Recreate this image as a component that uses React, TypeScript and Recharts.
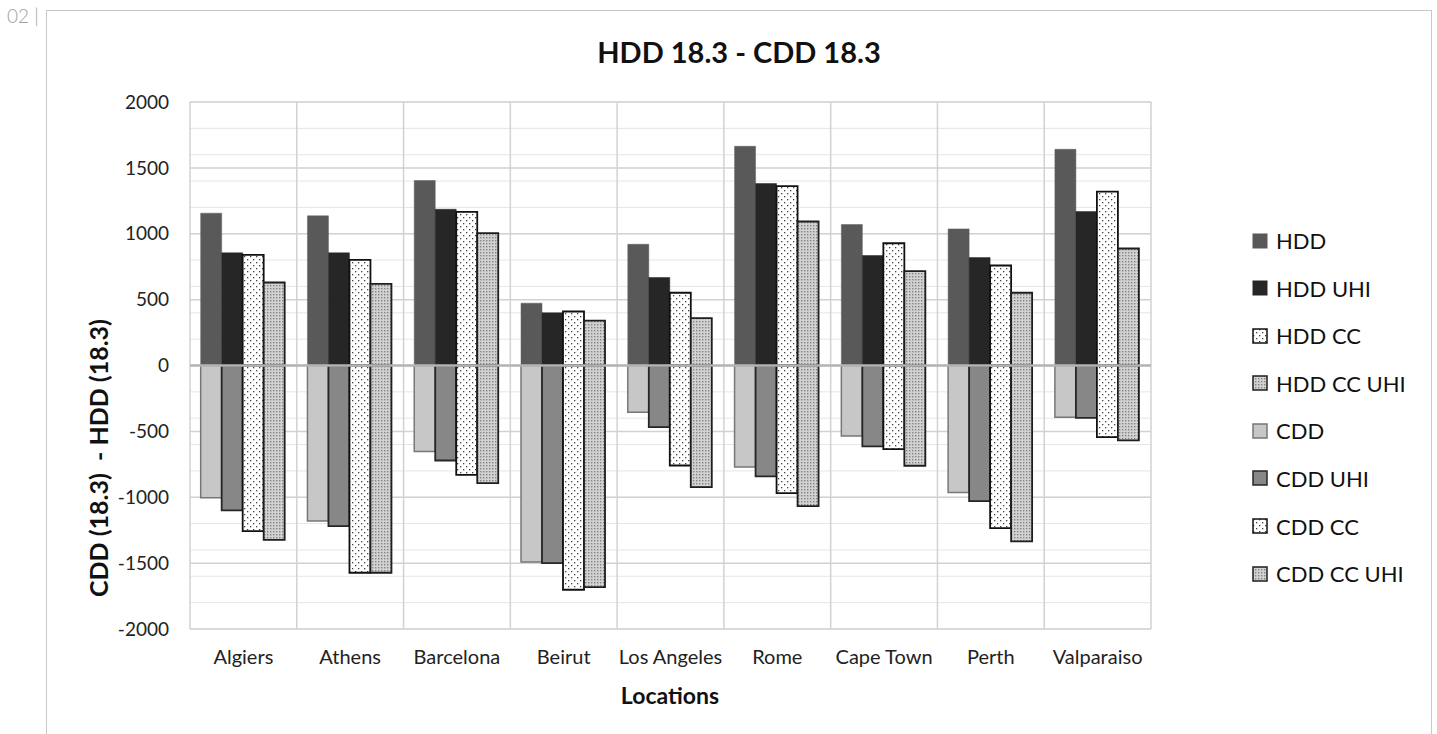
import React from 'react';
import { BarChart, Bar, XAxis, YAxis, CartesianGrid, ReferenceLine } from 'recharts';

const locations = ['Algiers', 'Athens', 'Barcelona', 'Beirut', 'Los Angeles', 'Rome', 'Cape Town', 'Perth', 'Valparaiso'];
const hdd = [1156, 1136, 1404, 473, 920, 1664, 1070, 1037, 1641];
const hddUhi = [855, 855, 1186, 400, 668, 1381, 835, 819, 1168];
const hddCc = [840, 802, 1166, 410, 552, 1361, 928, 759, 1320];
const hddCcUhi = [630, 620, 1004, 341, 359, 1093, 716, 552, 888];
const cdd = [-1004, -1181, -653, -1492, -354, -771, -536, -963, -392];
const cddUhi = [-1100, -1219, -721, -1500, -468, -842, -614, -1029, -397];
const cddCc = [-1257, -1573, -830, -1702, -759, -969, -635, -1234, -544];
const cddCcUhi = [-1323, -1573, -893, -1682, -923, -1067, -761, -1335, -569];

const yTicks = [-2000, -1500, -1000, -500, 0, 500, 1000, 1500, 2000];
const minorGrid = Array.from({ length: 41 }, (_, i) => -2000 + i * 100);

const data = locations.map((name, i) => ({
  name,
  hdd: hdd[i],
  hddUhi: hddUhi[i],
  hddCc: hddCc[i],
  hddCcUhi: hddCcUhi[i],
  cdd: cdd[i],
  cddUhi: cddUhi[i],
  cddCc: cddCc[i],
  cddCcUhi: cddCcUhi[i],
}));

type Kind = 'solid' | 'sparse' | 'dense';
const series: { key: string; name: string; stack: string; kind: Kind; fill: string; stroke: string; sw: number }[] = [
  { key: 'hdd', name: 'HDD', stack: 's1', kind: 'solid', fill: '#595959', stroke: '#5e5e5e', sw: 0.5 },
  { key: 'hddUhi', name: 'HDD UHI', stack: 's2', kind: 'solid', fill: '#262626', stroke: '#262626', sw: 0.5 },
  { key: 'hddCc', name: 'HDD CC', stack: 's3', kind: 'sparse', fill: 'sparse', stroke: '#111111', sw: 1.8 },
  { key: 'hddCcUhi', name: 'HDD CC UHI', stack: 's4', kind: 'dense', fill: 'dense', stroke: '#1e1e1e', sw: 1.8 },
  { key: 'cdd', name: 'CDD', stack: 's1', kind: 'solid', fill: '#c7c7c7', stroke: '#777777', sw: 1.5 },
  { key: 'cddUhi', name: 'CDD UHI', stack: 's2', kind: 'solid', fill: '#878787', stroke: '#262626', sw: 1.8 },
  { key: 'cddCc', name: 'CDD CC', stack: 's3', kind: 'sparse', fill: 'sparse', stroke: '#111111', sw: 1.8 },
  { key: 'cddCcUhi', name: 'CDD CC UHI', stack: 's4', kind: 'dense', fill: 'dense', stroke: '#1e1e1e', sw: 1.8 },
];

const FONT = 'Lato, "Noto Sans", sans-serif';

const Patterns = ({ prefix }: { prefix: string }) => (
  <defs>
    <pattern id={`${prefix}sparse`} width="6" height="6" patternUnits="userSpaceOnUse">
      <rect width="6" height="6" fill="#ffffff" />
      <rect x="1" y="1" width="1.3" height="1.3" fill="#444" />
      <rect x="4" y="4" width="1.3" height="1.3" fill="#444" />
    </pattern>
    <pattern id={`${prefix}dense`} width="3" height="3" patternUnits="userSpaceOnUse">
      <rect width="3" height="3" fill="#d2d2d2" />
      <rect x="0" y="0" width="1.4" height="1.4" fill="#848484" />
    </pattern>
  </defs>
);

const fillFor = (s: { kind: Kind; fill: string }, prefix: string) =>
  s.kind === 'solid' ? s.fill : `url(#${prefix}${s.kind})`;

export default function App() {
  const W = 1437;
  const H = 734;
  return (
    <div style={{ position: 'absolute', left: 0, top: 0, width: W, height: H, overflow: 'hidden', background: '#fff', fontFamily: FONT }}>
      {/* page marker */}
      <div style={{ position: 'absolute', left: 7, top: 4, fontSize: 19, fontWeight: 300, color: '#a0a0a0', fontFamily: FONT, lineHeight: '24px' }}>02 |</div>
      {/* frame */}
      <div style={{ position: 'absolute', left: 46, top: 10, width: 1386, height: 760, border: '1.5px solid #c8c8c8', boxSizing: 'border-box' }} />

      <div style={{ position: 'absolute', left: 0, top: 0 }}>
        <BarChart
          width={W}
          height={H}
          data={data}
          stackOffset="sign"
          barCategoryGap="10%"
          barGap={0}
          margin={{ top: 102, right: 206, bottom: 75, left: 110 }}
        >
          <Patterns prefix="c-" />
          <CartesianGrid yAxisId="left" horizontalValues={minorGrid} vertical={false} stroke="#e6e6e6" strokeWidth={1} />
          <CartesianGrid
            yAxisId="left"
            horizontalValues={yTicks}
            stroke="#d2d2d2"
            strokeWidth={1.5}
            verticalCoordinatesGenerator={({ offset }: any) =>
              Array.from({ length: locations.length + 1 }, (_, i) => offset.left + (i * offset.width) / locations.length)
            }
          />
          <XAxis
            dataKey="name"
            axisLine={false}
            tickLine={false}
            tickSize={0}
            tickMargin={21}
            height={30}
            interval={0}
            tick={{ fill: '#222', fontSize: 20, fontFamily: FONT }}
          />
          <YAxis
            yAxisId="left"
            domain={[-2000, 2000]}
            ticks={yTicks}
            width={80}
            axisLine={false}
            tickLine={false}
            tickSize={0}
            tickMargin={21}
            tick={{ fill: '#222', fontSize: 19, fontFamily: FONT }}
          />
          <YAxis
            yAxisId="right"
            orientation="right"
            domain={[-2000, 2000]}
            ticks={yTicks}
            width={80}
            axisLine={false}
            tickLine={false}
            tickSize={0}
            tickMargin={22}
            tick={{ fill: '#222', fontSize: 19, fontFamily: FONT, textAnchor: 'start' }}
          />
          {series.map((s) => (
            <Bar
              key={s.key}
              dataKey={s.key}
              name={s.name}
              stackId={s.stack}
              yAxisId="left"
              fill={fillFor(s, 'c-')}
              stroke={s.stroke}
              strokeWidth={s.sw}
              isAnimationActive={false}
            />
          ))}
          <ReferenceLine yAxisId="left" y={0} stroke="#b4b4b4" strokeWidth={2.5} />
        </BarChart>
      </div>

      {/* title */}
      <div style={{ position: 'absolute', left: 46, width: 1386, top: 34, textAlign: 'center', fontSize: 29, fontWeight: 700, color: '#111', lineHeight: '36px' }}>
        HDD 18.3 - CDD 18.3
      </div>
      {/* x axis title */}
      <div style={{ position: 'absolute', left: 470, width: 400, top: 680, textAlign: 'center', fontSize: 23, fontWeight: 700, color: '#111', lineHeight: '30px' }}>
        Locations
      </div>
      {/* y axis title */}
      <div
        style={{
          position: 'absolute',
          left: 98,
          top: 458,
          transform: 'translate(-50%, -50%) rotate(-90deg)',
          whiteSpace: 'pre',
          fontSize: 25,
          fontWeight: 700,
          color: '#111',
          lineHeight: '30px',
        }}
      >
        {'CDD (18.3)  - HDD (18.3)'}
      </div>

      {/* legend */}
      <div style={{ position: 'absolute', left: 1252, top: 229 }}>
        {series.map((s, i) => (
          <div key={s.key} style={{ display: 'flex', alignItems: 'center', height: 23, marginBottom: i < series.length - 1 ? 24.6 : 0 }}>
            <svg width={16} height={16} style={{ display: 'block' }}>
              <Patterns prefix={`l${i}-`} />
              <rect
                x={1}
                y={1}
                width={14}
                height={14}
                fill={fillFor(s, `l${i}-`)}
                stroke={s.kind === 'solid' && i < 2 ? s.fill : s.stroke}
                strokeWidth={s.kind === 'solid' && i < 2 ? 1 : 1.5}
              />
            </svg>
            <span style={{ marginLeft: 8, fontSize: 22, color: '#111', lineHeight: '23px', whiteSpace: 'nowrap' }}>{s.name}</span>
          </div>
        ))}
      </div>
    </div>
  );
}
